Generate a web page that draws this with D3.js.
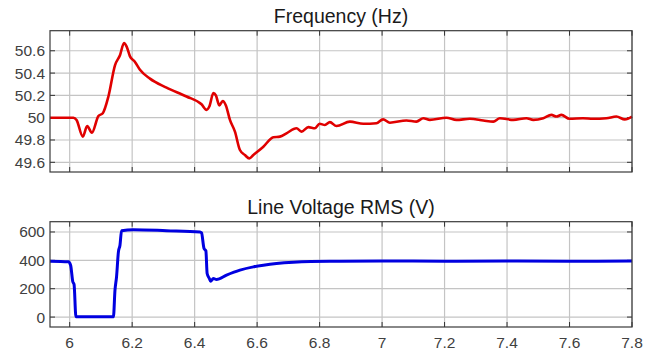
<!DOCTYPE html>
<html>
<head>
<meta charset="utf-8">
<script src="https://cdn.jsdelivr.net/npm/d3@7"></script>
<style>
  body { margin: 0; background: #fff; }
  text { font-family: "Liberation Sans", Arial, sans-serif; }
</style>
</head>
<body>
<svg width="659" height="352"></svg>
<script>
// frequency trace (s, Hz)
let freqT = [5.937, 6.012, 6.022, 6.042, 6.056, 6.071, 6.092, 6.106, 6.124, 6.145, 6.161, 6.174, 6.182,
  6.193, 6.209, 6.225, 6.257, 6.31, 6.374, 6.422, 6.438, 6.447, 6.46, 6.468, 6.479, 6.49, 6.5, 6.513,
  6.529, 6.545, 6.561, 6.575, 6.588, 6.62, 6.652, 6.673, 6.694, 6.726, 6.742, 6.764, 6.785, 6.8, 6.817,
  6.833, 6.854, 6.897, 6.94, 6.982, 7.003, 7.025, 7.078, 7.11, 7.132, 7.153, 7.206, 7.238, 7.281, 7.324,
  7.356, 7.377, 7.42, 7.462, 7.484, 7.516, 7.542, 7.558, 7.574, 7.6, 7.643, 7.675, 7.718, 7.75, 7.777, 7.8]
let freqV = [50.0, 50.0, 49.98, 49.83, 49.925, 49.865, 50.015, 50.04, 50.19, 50.47, 50.56, 50.67, 50.64,
  50.55, 50.5, 50.43, 50.35, 50.27, 50.19, 50.12, 50.07, 50.1, 50.22, 50.2, 50.11, 50.15, 50.11, 49.98,
  49.875, 49.71, 49.665, 49.635, 49.665, 49.74, 49.825, 49.83, 49.86, 49.905, 49.875, 49.915, 49.905, 49.945, 49.935,
  49.96, 49.925, 49.965, 49.945, 49.95, 49.985, 49.955, 49.975, 49.965, 49.995, 49.98, 50.0, 49.98, 49.99, 49.975,
  49.965, 49.995, 49.98, 49.995, 49.98, 49.995, 50.025, 50.01, 50.025, 49.99, 49.995, 49.99, 49.995, 50.01, 49.985, 50.01]

// line voltage rms trace (s, V)
let voltT = [5.937, 5.996, 6.003, 6.01, 6.014, 6.02, 6.14, 6.145, 6.15, 6.156, 6.161, 6.166, 6.204,
  6.31, 6.417, 6.422, 6.43, 6.436, 6.44, 6.447, 6.451, 6.46, 6.47, 6.502, 6.545, 6.588, 6.62, 6.662,
  6.716, 6.833, 7.0, 7.2, 7.4, 7.6, 7.8]
let voltV = [394, 390, 366, 249, 230, 2, 2, 190, 284, 460, 507, 608, 616,
  609, 600, 594, 484, 467, 307, 272, 253, 272, 265, 296, 331, 354, 366, 378,
  387, 394, 395, 394, 395, 394, 395]

let xTicks = [6, 6.2, 6.4, 6.6, 6.8, 7, 7.2, 7.4, 7.6, 7.8]
let freqTicks = [49.6, 49.8, 50, 50.2, 50.4, 50.6]
let voltTicks = [0, 200, 400, 600]

let svg = d3.select('svg')
let x = d3.scaleLinear().domain([5.937, 7.8]).range([50, 632])

function panel(top, bottom, domain, ticks, title, tt, vv, color, width, showX) {
  let y = d3.scaleLinear().domain(domain).range([bottom, top])
  let g = svg.append('g')

  // grid
  g.selectAll('line.gx').data(xTicks).enter().append('line')
    .attr('x1', d => x(d)).attr('x2', d => x(d))
    .attr('y1', top).attr('y2', bottom)
    .attr('stroke', '#c4c4c4').attr('stroke-width', 1.2)
  g.selectAll('line.gy').data(ticks).enter().append('line')
    .attr('y1', d => y(d)).attr('y2', d => y(d))
    .attr('x1', 50).attr('x2', 632)
    .attr('stroke', '#c4c4c4').attr('stroke-width', 1.2)

  // inner tick marks
  let tl = 5
  g.selectAll('line.tx').data(xTicks).enter().append('line')
    .attr('x1', d => x(d)).attr('x2', d => x(d))
    .attr('y1', bottom).attr('y2', bottom - tl)
    .attr('stroke', '#333')
  g.selectAll('line.tx2').data(xTicks).enter().append('line')
    .attr('x1', d => x(d)).attr('x2', d => x(d))
    .attr('y1', top).attr('y2', top + tl)
    .attr('stroke', '#333')
  g.selectAll('line.ty').data(ticks).enter().append('line')
    .attr('y1', d => y(d)).attr('y2', d => y(d))
    .attr('x1', 50).attr('x2', 50 + tl)
    .attr('stroke', '#333')
  g.selectAll('line.ty2').data(ticks).enter().append('line')
    .attr('y1', d => y(d)).attr('y2', d => y(d))
    .attr('x1', 632).attr('x2', 632 - tl)
    .attr('stroke', '#333')

  // trace
  let line = d3.line().x((d, i) => x(tt[i])).y(d => y(d)).curve(d3.curveMonotoneX)
  g.append('path').datum(vv)
    .attr('d', line)
    .attr('fill', 'none')
    .attr('stroke', color)
    .attr('stroke-width', width)
    .attr('stroke-linejoin', 'round')

  // box
  g.append('rect')
    .attr('x', 50).attr('y', top)
    .attr('width', 582).attr('height', bottom - top)
    .attr('fill', 'none').attr('stroke', '#3a3a3a').attr('stroke-width', 1.2)

  // y labels
  g.selectAll('text.yl').data(ticks).enter().append('text')
    .attr('x', 45).attr('y', d => y(d) + 5.5)
    .attr('text-anchor', 'end')
    .attr('font-size', 15.5)
    .attr('fill', '#404040')
    .text(d => d)

  if (showX) {
    g.selectAll('text.xl').data(xTicks).enter().append('text')
      .attr('x', d => x(d)).attr('y', 348)
      .attr('text-anchor', 'middle')
      .attr('font-size', 15.5)
      .attr('fill', '#404040')
      .text(d => d)
  }

  g.append('text')
    .attr('x', 341).attr('y', top - 8)
    .attr('text-anchor', 'middle')
    .attr('font-size', 19.5)
    .attr('fill', '#1a1a1a')
    .text(title)
}

panel(30.7, 172, [49.513, 50.78], freqTicks, 'Frequency (Hz)', freqT, freqV, '#e00000', 2.6, false)
panel(221.7, 327, [-70, 672.5], voltTicks, 'Line Voltage RMS (V)', voltT, voltV, '#0000e0', 3, true)
</script>
</body>
</html>
